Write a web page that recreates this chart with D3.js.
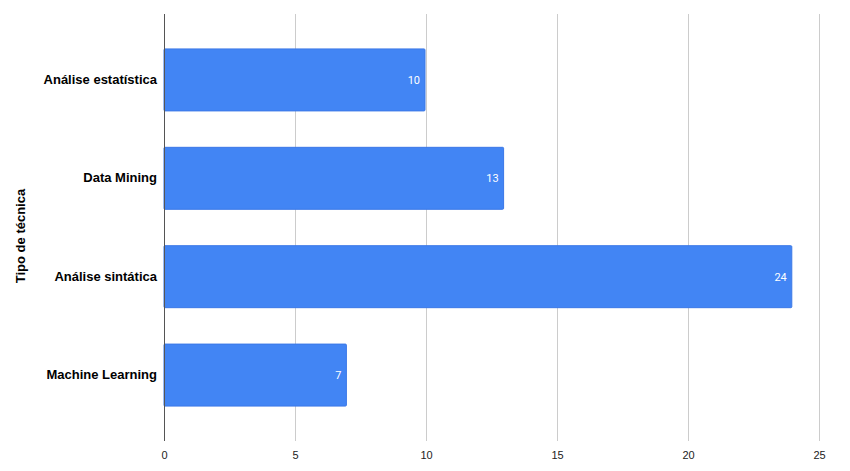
<!DOCTYPE html>
<html><head><meta charset="utf-8">
<script src="https://cdn.jsdelivr.net/npm/d3@7"></script>
<style>body{margin:0;background:#fff}svg{display:block}</style>
</head><body>
<script>
const categories = ["Análise estatística", "Data Mining", "Análise sintática", "Machine Learning"];
const values = [10, 13, 24, 7];
const xTicks = [0, 5, 10, 15, 20, 25];
const yTitle = "Tipo de técnica";

const W = 850, H = 471;
const mLeft = 164, mRight = 819, mTop = 14, mBottom = 441;
const svg = d3.select("body").append("svg").attr("width", W).attr("height", H);
const x = d3.scaleLinear().domain([0, 25]).range([mLeft, mRight]);
const y = d3.scaleBand().domain(categories).range([mTop, mBottom]).paddingInner(0.37).paddingOuter(0.355);

// grid
svg.append("g").selectAll("line").data(xTicks.filter(d => d !== 0)).join("line")
  .attr("x1", d => x(d)).attr("x2", d => x(d)).attr("y1", mTop).attr("y2", mBottom)
  .attr("stroke", "#cccccc").attr("stroke-width", 1).attr("shape-rendering", "crispEdges");

// bars
svg.append("g").selectAll("rect").data(values).join("rect")
  .attr("x", x(0)).attr("y", (d, i) => y(categories[i]))
  .attr("width", d => x(d) - x(0) - 1).attr("height", y.bandwidth())
  .attr("fill", "#4285f4").attr("stroke", "#3b78e7").attr("stroke-width", 1).attr("rx", 1);

// zero axis line
svg.append("line").attr("x1", x(0)).attr("x2", x(0)).attr("y1", mTop).attr("y2", mBottom)
  .attr("stroke", "#555").attr("stroke-width", 1).attr("shape-rendering", "crispEdges");

// value labels
svg.append("g").selectAll("text").data(values).join("text")
  .attr("x", d => x(d) - 6).attr("y", (d, i) => y(categories[i]) + y.bandwidth() / 2)
  .attr("dy", "0.35em").attr("text-anchor", "end")
  .attr("font-family", "Roboto, Arial, sans-serif").attr("font-size", 11).attr("fill", "#fff")
  .text(d => d);

// x tick labels
const xAxis = d3.axisBottom(x).tickValues(xTicks).tickSize(0).tickPadding(8);
const gx = svg.append("g").attr("transform", `translate(0,${mBottom})`).call(xAxis);
gx.select(".domain").remove();
gx.selectAll("text").attr("font-family", "Liberation Sans, Arial, sans-serif").attr("font-size", 11).attr("fill", "#222").attr("dy", "0.9em");

// y category labels
const yAxis = d3.axisLeft(y).tickSize(0).tickPadding(7);
const gy = svg.append("g").attr("transform", `translate(${mLeft},0)`).call(yAxis);
gy.select(".domain").remove();
gy.selectAll("text").attr("font-family", "Liberation Sans, Arial, sans-serif").attr("font-size", 13).attr("font-weight", "bold").attr("fill", "#000");

// y title
svg.append("text").attr("transform", `translate(25,236) rotate(-90)`)
  .attr("text-anchor", "middle").attr("font-family", "Liberation Sans, Arial, sans-serif")
  .attr("font-size", 13).attr("font-weight", "bold").attr("fill", "#000").text(yTitle);
</script>
</body></html>
